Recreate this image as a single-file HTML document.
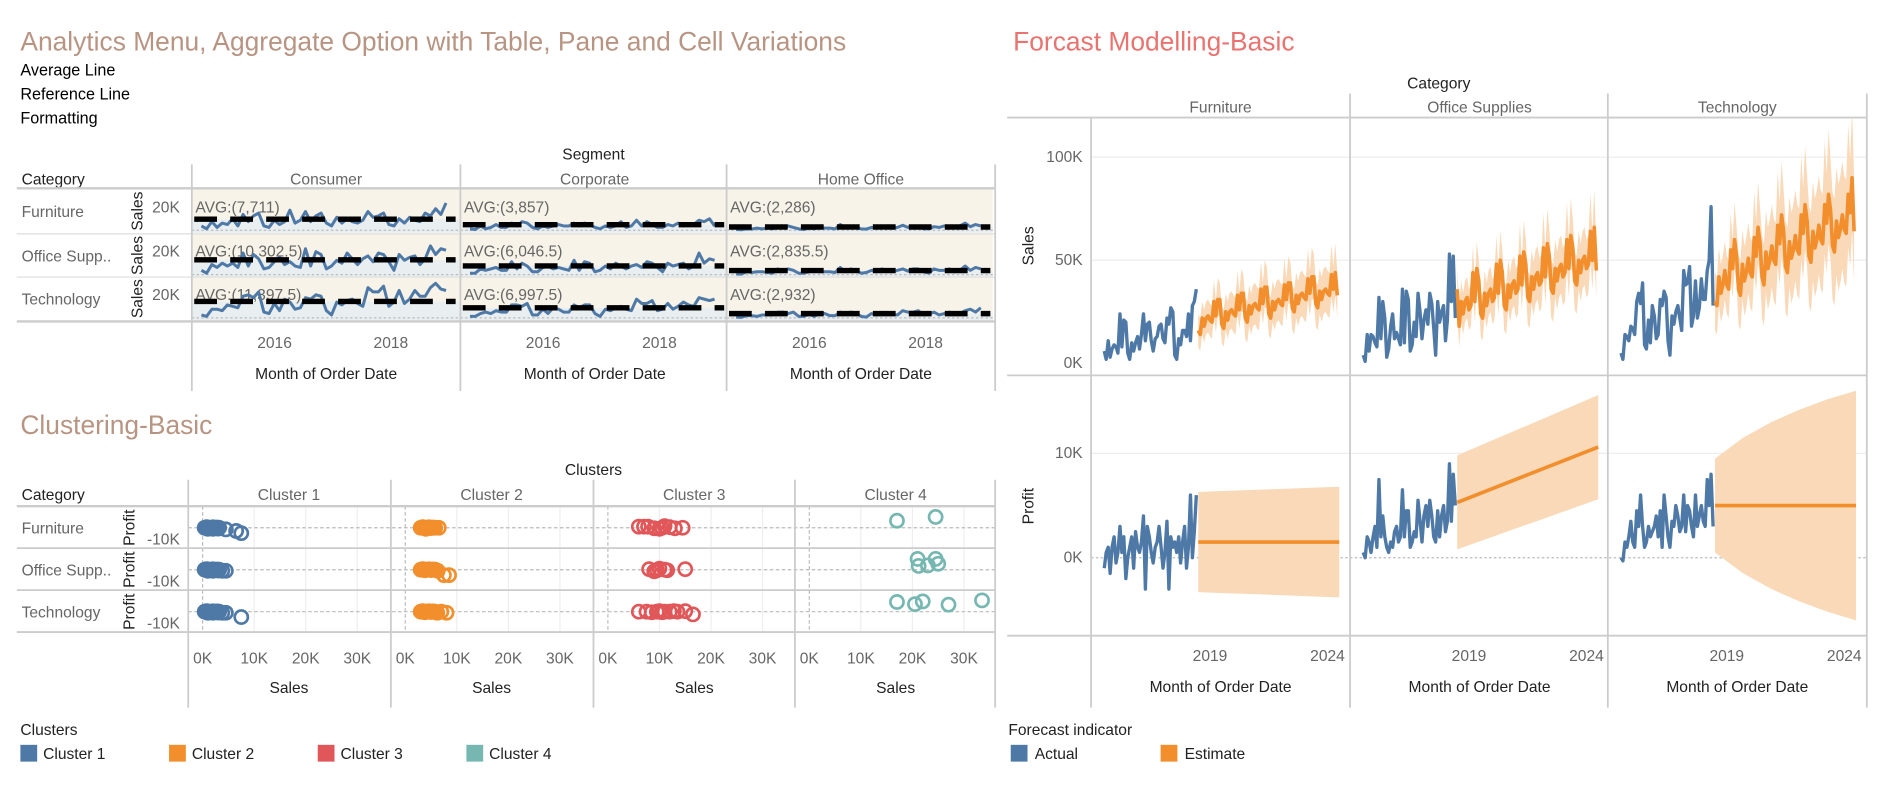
<!DOCTYPE html>
<html><head><meta charset="utf-8">
<style>
html,body{margin:0;padding:0;background:#fff;}
svg{display:block;font-family:"Liberation Sans",sans-serif;}
.t{font-size:13px;fill:#666;}
.b{font-size:13px;fill:#222;}
</style></head>
<body>
<svg id="dash" width="1880" height="794" viewBox="0 0 1568 662" preserveAspectRatio="none" xmlns="http://www.w3.org/2000/svg">
<defs>
<clipPath id="clipP"><rect x="910" y="314" width="647" height="216"/></clipPath>
<clipPath id="clipS"><rect x="910" y="99" width="647" height="214"/></clipPath>
</defs>
<text x="17" y="42" font-size="22" fill="#b89483">Analytics Menu, Aggregate Option with Table, Pane and Cell Variations</text>
<text x="845" y="42" font-size="22" fill="#e8736f">Forcast Modelling-Basic</text>
<text x="17" y="63" font-size="13.5" fill="#000">Average Line</text>
<text x="17" y="83" font-size="13.5" fill="#000">Reference Line</text>
<text x="17" y="103" font-size="13.5" fill="#000">Formatting</text>
<text x="495" y="133" text-anchor="middle" class="b">Segment</text>
<text x="18" y="154" class="b">Category</text>
<text x="17" y="362" font-size="22" fill="#b89483">Clustering-Basic</text>
<text x="495" y="396" text-anchor="middle" class="b">Clusters</text>
<text x="18" y="417" class="b">Category</text>
<text x="1200" y="74" text-anchor="middle" class="b">Category</text>
<text x="17" y="613" class="b">Clusters</text>
<text x="841" y="613" class="b">Forecast indicator</text>
<g id="g"></g>
</svg>
<script>
// ===== Data: analytics sparklines (Sales in K, monthly 2015-2018) =====
const segments = ["Consumer","Corporate","Home Office"];
const categories = ["Furniture","Office Supp..","Technology"];
const sparkConsumerFurn = [3,1,6,2,5,4,8,3,11,6,10,12,3,2,7,4,6,14,5,7,13,6,10,12,5,3,9,5,8,6,5,7,13,9,10,12,4,3,8,5,9,7,6,12,10,15,11,19];
const sparkCorporateFurn = [1,0.5,3,1,2,4,2,2,5,3,6,5,2,1,3,2,3,4,3,3,5,3,5,4,2,1,3,2,3,6,2,3,7,3,6,4,2,2,4,3,5,3,4,4,7,6,8,3];
const sparkHomeFurn = [0.5,0.3,1,0.8,1.5,1,1.5,1,2.5,1.5,3,2,1,0.5,1.5,1,2,1.5,1.5,1,4,2,3,2,1,0.8,2,1.5,2.5,2,1.5,2,3.5,2,3,2.5,1,1,2.5,2,3,2.5,2,3,5,2.5,4,3];
const sparkConsumerOff = [3,1,7,5,8,6,8,5,15,6,14,11,4,5,9,12,7,9,6,5,18,6,16,14,4,6,10,8,15,11,7,11,13,9,15,14,9,3,14,10,12,13,7,11,20,14,18,17];
const sparkCorporateOff = [1,1,4,3,4,5,3,3,9,4,8,6,2,2,5,6,4,5,4,3,10,3,9,8,2,3,6,4,8,6,4,6,7,5,9,8,5,2,8,6,7,8,4,6,15,8,11,10];
const sparkHomeOff = [0.5,0.3,2,1.5,2,2,1.5,1,4,2,4,3,1,1,2,3,2,2,2,1.5,5,2,4,3,1,1.5,3,2,4,3,2,3,4,2.5,4,4,2,1,4,3,3,4,2,3,6,3,5,4];
const sparkConsumerTech = [2,1,6,6,5,9,8,7,15,16,14,18,4,3,10,5,13,11,6,7,14,13,16,15,5,2,11,9,12,13,10,8,21,18,18,22,8,11,19,10,13,19,15,15,21,24,20,19];
const sparkCorporateTech = [1,1,3,4,3,5,4,4,9,9,8,10,2,2,6,3,7,6,4,4,9,7,9,9,3,1,6,5,7,8,6,5,13,10,10,12,5,6,10,6,8,11,9,8,14,13,12,13];
const sparkHomeTech = [0.5,0.3,1.5,1.5,1,2,2,2,4,4,3,4,1,1,2.5,1,3,3,1.5,1.5,4,3,4,3.5,1,0.5,3,2,3,3,2.5,2,5,4,4,5,2,2.5,4,2,3,4,3,3,5,6,4,7];
const avgValues = [[7.711,3.857,2.286],[10.3025,6.0465,2.8355],[11.3975,6.9975,2.932]];
const avgLabels = [["AVG:(7,711)","AVG:(3,857)","AVG:(2,286)"],["AVG:(10,302.5)","AVG:(6,046.5)","AVG:(2,835.5)"],["AVG:(11,397.5)","AVG:(6,997.5)","AVG:(2,932)"]];
const sparkTickYears = ["2016","2018"];

// ===== Data: clusters (Sales K, Profit K) =====
const clusterNames = ["Cluster 1","Cluster 2","Cluster 3","Cluster 4"];
const clusterColors = ["#4e79a7","#f28e2b","#e15759","#76b7b2"];
const clusterTicks = ["0K","10K","20K","30K"];
const c1Sales = [[0.4,0.8,1.2,1.6,2,2.4,2.8,3.2,1,2,3,4.5,6.5,7.5],[0.4,0.8,1.2,1.6,2,2.4,2.8,3.2,1,2,3,3.8,4.5],[0.4,0.8,1.2,1.6,2,2.4,2.8,3.2,1,2,3,3.8,4.5,7.5]];
const c1Profit = [[0,0.5,-0.5,0,0.4,-0.3,0.2,0,-1,-1,-0.8,-1.5,-3,-5],[0,0.5,-0.5,0,0.4,-0.3,0.2,0,-1,-1,-0.8,-1,-1],[0,0.5,-0.5,0,0.4,-0.3,0.2,0,-1,-1,-0.8,-1,-1,-5]];
const c2Sales = [[3,3.4,3.8,4.2,4.6,5,5.4,5.8,4,6.5],[3,3.4,3.8,4.2,4.6,5,5.4,5.8,6.3,7.5,8.5],[3,3.4,3.8,4.2,4.6,5,5.4,5.8,6.2,7,8]];
const c2Profit = [[0,0.5,-0.5,0,0.4,-0.3,0.2,0,-1,0],[0,0.5,-0.5,0,0.4,-0.3,0.2,0,-1,-5,-5],[0,0.5,-0.5,0,0.4,-0.3,0.2,0,-1,0,-1]];
const c3Sales = [[6,7,7.8,9,10,10.5,11,12,13,14.5],[8,9,9.5,10,11,11.5,15],[6,7.5,8.5,9.5,10,10.5,11,12,12.8,13.5,15,16.5]];
const c3Profit = [[1,1,1,-0.5,-1,0,1.5,0.5,-0.5,0],[0.5,-1.5,-0.5,1,0,-0.5,0.5],[0,0,-0.5,0,0.5,-0.5,0,0,0.5,0,0.5,-2.5]];
const c4Sales = [[17,24.5],[21,21.2,23,24.5,25],[17,20.5,22,27,33.5]];
const c4Profit = [[6.5,10],[10,3.5,4,10,5.5],[9,7,9.5,6.5,10.5]];

// ===== Data: forecast (K) =====
const fcCategories = ["Furniture","Office Supplies","Technology"];
const salesTicks = [0,50,100];
const salesTickLabels = ["0K","50K","100K"];
const profitTicks = [0,10];
const profitTickLabels = ["0K","10K"];
const fcYearTicks = [2019,2024];
const furnSales = [6,2,11,3,7,9,8,5,24,8,21,20,5,2,10,6,10,13,7,14,24,11,19,20,11,6,12,13,18,19,12,10,22,19,27,25,4,2,12,9,16,16,13,24,11,28,30,36];
const offSales = [4,1,14,6,14,13,10,8,32,12,30,22,3,7,18,24,12,15,12,9,36,10,35,31,6,9,20,13,34,25,12,21,26,19,34,29,17,4,30,20,25,28,11,21,53,30,52,22];
const techSales = [5,2,14,13,11,18,17,14,30,34,29,39,9,7,21,10,28,23,12,14,31,28,35,32,11,4,23,19,25,28,22,16,45,38,39,47,18,23,40,22,27,41,31,31,45,50,76,28];
const furnSalesFc = [16,14,22,18,22,23,21,20,30,23,31,31,19,17,25,21,25,26,24,23,33,26,34,34,22,20,28,24,28,29,27,26,36,29,37,37,24,22,30,26,30,31,29,28,38,31,39,39,27,25,33,29,33,34,32,31,41,34,42,42,29,27,35,31,35,36,34,33,43,36,44,33];
const offSalesFc = [36,18,30,24,30,32,26,28,44,30,46,40,24,22,34,28,34,36,30,32,48,34,50,44,28,26,38,32,38,40,34,36,52,38,54,48,32,30,42,36,42,44,38,40,56,42,58,52,36,34,46,40,46,48,42,44,60,46,62,56,40,38,50,44,50,52,46,48,64,50,66,45];
const techSalesFc = [30,28,42,34,38,45,38,36,55,46,60,52,36,33,48,40,44,51,44,42,61,52,66,58,42,38,54,46,50,57,50,48,67,58,72,64,47,44,59,51,55,62,55,53,72,63,77,69,52,49,64,56,60,67,60,58,77,68,82,74,57,54,69,61,65,72,65,63,82,73,90,64];
const furnSalesBand = [8,9,10,10,11,11];
const offSalesBand = [10,11,12,13,14,14];
const techSalesBand = [14,17,20,22,24,26];
const furnProfit = [-1,0.5,1,-1.5,1,2,-0.5,0.5,3,0.5,2,-2,0,1,2,-1,2.5,1,0.5,1.5,4,-3,3,2,0.5,-0.5,1,1.5,3,1,-1,0.5,3.5,-3,2,1,1.5,0.5,2,-0.5,1.5,3,-1,1,6,0,2.5,6];
const offProfit = [0.5,0,2,1.5,0.5,2,3,1,7.5,2,4,2,1,0.5,1.5,1,2.5,3,1.5,2,6.5,2,4.5,4.5,1,1.5,2.5,2,5.5,3.5,1.5,4,5,3,5.5,4,2,1.5,4.5,2,4,5,2.5,3.5,9,3.5,8,5];
const techProfit = [0,-0.3,1.5,1,2,3.5,1.5,1,4.5,3,6,3,1,1.5,3,2,2.5,3,4,2,4.5,1,6,4,2,1,3.5,3,5,4,2.5,3,6,2.5,5,4.5,3,2,6,3,4,5,3.5,3,7.5,5,8,3];
const profitFcStart = [1.5,5.3,5.0];
const profitFcEnd = [1.5,10.6,5.0];
const furnProfitBand = [4.8,4.9,5,5.1,5.2,5.3];
const offProfitBand = [4.5,4.6,4.7,4.8,4.9,5];
const techProfitBand = [4.5,6.5,8,9.2,10.2,11];

const NS="http://www.w3.org/2000/svg";
const G=document.getElementById('g');
function mk(tag,attrs,parent){const e=document.createElementNS(NS,tag);for(const k in attrs)e.setAttribute(k,attrs[k]);(parent||G).appendChild(e);return e;}
function txt(x,y,s,cls,anchor,extra){const e=mk('text',Object.assign({x:x,y:y,class:cls||'t','text-anchor':anchor||'start'},extra||{}));e.textContent=s;return e;}
function pathFrom(pts){return pts.map((p,i)=>(i?'L':'M')+p[0].toFixed(1)+','+p[1].toFixed(1)).join('');}

// ===== Analytics grid =====
const aColX=[160,384,606], aColW=224, aRowT=[158,195,231], aRowH=36;
const sparks=[[sparkConsumerFurn,sparkCorporateFurn,sparkHomeFurn],[sparkConsumerOff,sparkCorporateOff,sparkHomeOff],[sparkConsumerTech,sparkCorporateTech,sparkHomeTech]];
function aX(c,i){return aColX[c]+8+i*(204/47);}
function aY(r,v){return aRowT[r]+aRowH-2-v*1.2;}
for(let r=0;r<3;r++){
  for(let c=0;c<3;c++){
    const bg=mk('rect',{x:aColX[c],y:aRowT[r],width:aColW-(c==2?2:0),height:aRowH,fill:'#f8f3e8'});
    
    
    const lo=mk('rect',{x:aColX[c],y:aY(r,avgValues[r][c]),width:aColW-(c==2?2:0),height:aRowT[r]+aRowH-aY(r,avgValues[r][c]),fill:'#e9eef0'});
    
    
    mk('line',{x1:aColX[c],x2:aColX[c]+aColW,y1:aY(r,0),y2:aY(r,0),stroke:'#bbb','stroke-dasharray':'2,2'});
    const lbl=txt(aColX[c]+3,aRowT[r]+19,avgLabels[r][c],'t','start',{'font-size':'13'});
    
    
    const ln=mk('path',{d:pathFrom(sparks[r][c].map((v,i)=>[aX(c,i),aY(r,v)])),fill:'none',stroke:'#4e79a7','stroke-width':2.5,'stroke-linejoin':'round'});
    
    
    const av=mk('line',{x1:aColX[c]+2,x2:aColX[c]+aColW-4,y1:aY(r,avgValues[r][c]),y2:aY(r,avgValues[r][c]),stroke:'#000','stroke-width':4.5,'stroke-dasharray':'19,11'});
    
    
  }
  const rl=txt(18,aRowT[r]+23,categories[r],'t');
  
  
  const tk=txt(150,aRowT[r]+19,'20K','t','end');
  
  
  const yt=txt(0,0,'Sales','b','middle',{transform:'translate(119,'+(aRowT[r]+18)+') rotate(-90)'});
  
  
  if(r>0) mk('line',{x1:14,x2:830,y1:aRowT[r],y2:aRowT[r],stroke:'#ddd','stroke-width':1});
}
mk('line',{x1:14,x2:830,y1:157,y2:157,stroke:'#ccc','stroke-width':2});
mk('line',{x1:14,x2:830,y1:268,y2:268,stroke:'#ccc','stroke-width':2});
for(let c=0;c<3;c++){
  const h=txt(aColX[c]+aColW/2,154,segments[c],'t','middle');
  
  
  sparkTickYears.forEach((s,k)=>{
    const tt=txt(aColX[c]+69+k*97,290,s,'t','middle');
    
    
  });
  const xt=txt(aColX[c]+aColW/2,316,'Month of Order Date','b','middle');
  
  
}
[160,384,606,830].forEach(x=>mk('line',{x1:x,x2:x,y1:137,y2:326,stroke:'#ccc','stroke-width':1.5}));

// ===== Clusters =====
const cColX=[157,326,495,663], cRowT=[422,457,492], cRowH=35;
function cX(c,v){return cColX[c]+12+v*4.3;}
function cY(r,v){return cRowT[r]+18-v*0.9;}
const cS=[c1Sales,c2Sales,c3Sales,c4Sales], cP=[c1Profit,c2Profit,c3Profit,c4Profit];
for(let c=0;c<4;c++){
  const h=txt(cColX[c]+84,417,clusterNames[c],'t','middle');
  
  
  clusterTicks.forEach((s,k)=>{
    const xx=cX(c,k*10);
    mk('line',{x1:xx,x2:xx,y1:422,y2:527,stroke:k==0?'#bbb':'#eee','stroke-dasharray':k==0?'3,2':'none'});
    const tt=txt(xx,553,s,'t','middle');
    
    
  });
  const xt=txt(cColX[c]+84,578,'Sales','b','middle');
  
  
}
for(let r=0;r<3;r++){
  mk('line',{x1:157,x2:830,y1:cY(r,0),y2:cY(r,0),stroke:'#bbb','stroke-dasharray':'3,2'});
  const rl=txt(18,cRowT[r]+23,categories[r],'t');
  
  
  const tk=txt(150,cRowT[r]+32,'-10K','t','end');
  
  
  const yt=txt(0,0,'Profit','b','middle',{transform:'translate(112,'+(cRowT[r]+18)+') rotate(-90)'});
  
  
  for(let c=0;c<4;c++){
    cS[c][r].forEach((s,i)=>{
      const p=mk('circle',{cx:cX(c,s),cy:cY(r,cP[c][r][i]),r:5.5,fill:'none',stroke:clusterColors[c],'stroke-width':2.2});
      
      
    });
    if(c<2){
      const blob=mk('ellipse',{cx:cX(c,c==0?1.8:4.4),cy:cY(r,0.1),rx:c==0?9:11,ry:5,fill:clusterColors[c]});
      
      
    }
  }
}
[422,457,492,527].forEach(y=>mk('line',{x1:14,x2:830,y1:y,y2:y,stroke:'#ccc','stroke-width':y==422?2:1.5}));
[157,326,495,663,830].forEach(x=>mk('line',{x1:x,x2:x,y1:400,y2:590,stroke:'#ccc','stroke-width':1.5}));
clusterNames.forEach((n,i)=>{
  const sw=mk('rect',{x:17+i*124,y:621,width:14,height:14,fill:clusterColors[i]});
  
  
  const lt=txt(36+i*124,633,n,'b');
  
  
});

// ===== Forecast =====
const fColX=[910,1126,1341], fColW=216;
function fX(c,t){return fColX[c]+11+(t-2015)*19.6;}
function sY(v){return 303-v*1.72;}
function pY(v){return 465-v*8.7;}
const act=[furnSales,offSales,techSales], fc=[furnSalesFc,offSalesFc,techSalesFc], band=[furnSalesBand,offSalesBand,techSalesBand];
const pact=[furnProfit,offProfit,techProfit], pband=[furnProfitBand,offProfitBand,techProfitBand];
salesTicks.forEach((v,k)=>{
  if(v>0) mk('line',{x1:910,x2:1557,y1:sY(v),y2:sY(v),stroke:'#eee'});
  const t=txt(903,sY(v)+4,salesTickLabels[k],'t','end');
  
  
});
profitTicks.forEach((v,k)=>{
  mk('line',{x1:910,x2:1557,y1:pY(v),y2:pY(v),stroke:v==0?'#bbb':'#eee','stroke-dasharray':v==0?'2,2':'none'});
  const t=txt(903,pY(v)+4,profitTickLabels[k],'t','end');
  
  
});
const st=txt(0,0,'Sales','b','middle',{transform:'translate(862,205) rotate(-90)'});


const pt=txt(0,0,'Profit','b','middle',{transform:'translate(862,422) rotate(-90)'});


const gS=mk('g',{'clip-path':'url(#clipS)'}), gP=mk('g',{'clip-path':'url(#clipP)'});
for(let c=0;c<3;c++){
  const h=txt(fColX[c]+fColW/2,94,fcCategories[c],'t','middle');
  
  
  fcYearTicks.forEach(y=>{
    const tt=txt(fX(c,y+0.5),551,String(y),'t','middle');
    
    
  });
  const xt=txt(fColX[c]+fColW/2,577,'Month of Order Date','b','middle');
  
  
  const up=fc[c].map((v,j)=>[fX(c,2019+j/12),sY(v+band[c][Math.floor(j/12)]*(j%12==8||j%12==10?1.3:1))]);
  const dn=fc[c].map((v,j)=>[fX(c,2019+j/12),sY(v-band[c][Math.floor(j/12)])]).reverse();
  const bd=mk('path',{d:pathFrom(up.concat(dn))+'Z',fill:'#f9d9b8'},gS);
  
  
  const la=mk('path',{d:pathFrom(act[c].map((v,i)=>[fX(c,2015+i/12),sY(v)])),fill:'none',stroke:'#4e79a7','stroke-width':2.8,'stroke-linejoin':'round'},gS);
  
  
  const lf=mk('path',{d:pathFrom(fc[c].map((v,j)=>[fX(c,2019+j/12),sY(v)])),fill:'none',stroke:'#f28e2b','stroke-width':3,'stroke-linejoin':'round'},gS);
  
  
  const pu=[],pd=[];
  pband[c].forEach((w,k)=>{const t=2019+k*(6/(pband[c].length-1));const m=profitFcStart[c]+(profitFcEnd[c]-profitFcStart[c])*(k/(pband[c].length-1));pu.push([fX(c,t),pY(m+w)]);pd.push([fX(c,t),pY(m-w)]);});
  const pb=mk('path',{d:pathFrom(pu.concat(pd.reverse()))+'Z',fill:'#f9d9b8'},gP);
  
  
  const pa=mk('path',{d:pathFrom(pact[c].map((v,i)=>[fX(c,2015+i/12),pY(v)])),fill:'none',stroke:'#4e79a7','stroke-width':2.8,'stroke-linejoin':'round'},gP);
  
  
  const pf=mk('line',{x1:fX(c,2019),y1:pY(profitFcStart[c]),x2:fX(c,2025),y2:pY(profitFcEnd[c]),stroke:'#f28e2b','stroke-width':3},gP);
  
  
}
mk('line',{x1:910,x2:1557,y1:98,y2:98,stroke:'#ccc','stroke-width':1.5});
mk('line',{x1:840,x2:1557,y1:313,y2:313,stroke:'#ccc','stroke-width':1.5});
mk('line',{x1:840,x2:1557,y1:530,y2:530,stroke:'#ccc','stroke-width':1.5});
mk('line',{x1:840,x2:910,y1:98,y2:98,stroke:'#ccc','stroke-width':1.5});
[910,1126,1341,1557].forEach(x=>mk('line',{x1:x,x2:x,y1:x==910?98:78,y2:590,stroke:'#ccc','stroke-width':1.5}));
[['Actual','#4e79a7',843],['Estimate','#f28e2b',968]].forEach(a=>{
  const sw=mk('rect',{x:a[2],y:621,width:14,height:14,fill:a[1]});
  
  
  const lt=txt(a[2]+20,633,a[0],'b');
  
  
});
</script>
</body></html>
